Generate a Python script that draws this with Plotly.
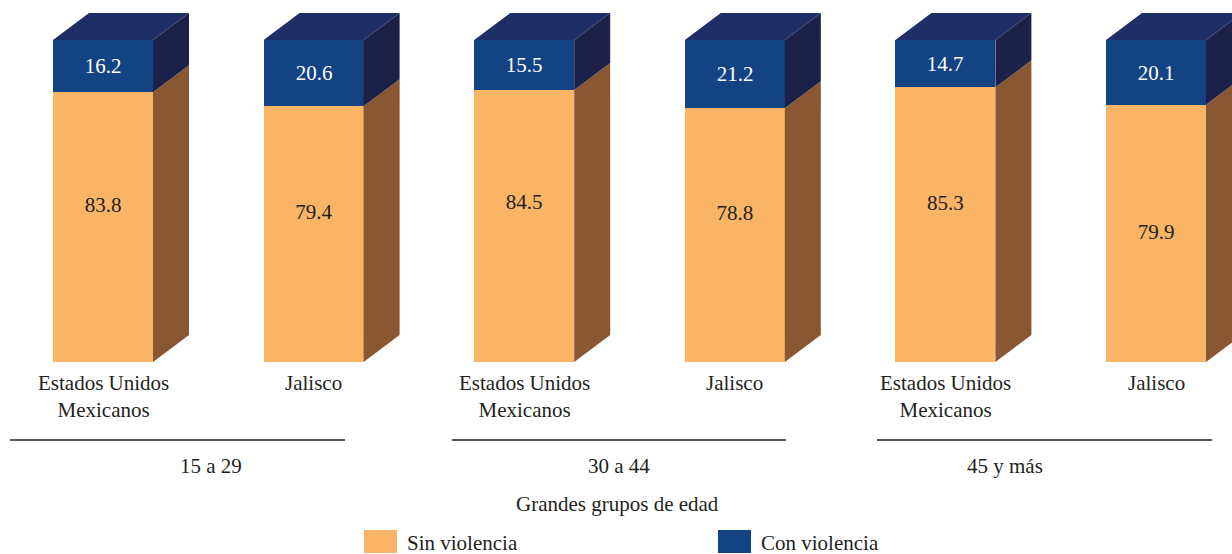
import plotly.graph_objects as go

# ---- data ----
groups = ["15 a 29", "30 a 44", "45 y más"]
places = ["Estados Unidos<br>Mexicanos", "Jalisco"]
sin_violencia = [83.8, 79.4, 84.5, 78.8, 85.3, 79.9]
con_violencia = [16.2, 20.6, 15.5, 21.2, 14.7, 20.1]
series_names = ["Sin violencia", "Con violencia"]

# ---- style ----
W, H = 1232, 554
C_ORANGE = "#F9B466"
C_ORANGE_SIDE = "#8A5733"
C_BLUE = "#134382"
C_BLUE_SIDE = "#1C2149"
C_TOP = "#202E66"
C_TEXT = "#231F20"
FONT = "Liberation Serif"
FS = 21
# relative height (fraction of the orange segment) where its value label sits
orange_label_frac = [0.577, 0.581, 0.581, 0.579, 0.573, 0.5]

# axis scaling (bar index units on x, percent on y)
px_per_unit_x = 210.6
x0_px = 103.0
xr = [-x0_px / px_per_unit_x, (W - x0_px) / px_per_unit_x]
px_per_unit_y = 3.22
base_px = 362.0
yr = [-(H - base_px) / px_per_unit_y, base_px / px_per_unit_y]

bw = 100 / px_per_unit_x
dx = 36 / px_per_unit_x
dy = 27 / px_per_unit_y

n = len(sin_violencia)
xs = list(range(n))

fig = go.Figure()

# side and top faces (3D effect)
for i in xs:
    s = sin_violencia[i]
    c = con_violencia[i]
    tot = s + c
    xr_edge = i + bw / 2
    xl_edge = i - bw / 2
    fig.add_trace(go.Scatter(
        x=[xr_edge, xr_edge + dx, xr_edge + dx, xr_edge, xr_edge],
        y=[0, dy, s + dy, s, 0], fill="toself", fillcolor=C_ORANGE_SIDE,
        line=dict(width=0), mode="lines", showlegend=False, hoverinfo="skip"))
    fig.add_trace(go.Scatter(
        x=[xr_edge, xr_edge + dx, xr_edge + dx, xr_edge, xr_edge],
        y=[s, s + dy, tot + dy, tot, s], fill="toself", fillcolor=C_BLUE_SIDE,
        line=dict(width=0), mode="lines", showlegend=False, hoverinfo="skip"))
    fig.add_trace(go.Scatter(
        x=[xl_edge, xl_edge + dx, xr_edge + dx, xr_edge, xl_edge],
        y=[tot, tot + dy, tot + dy, tot, tot], fill="toself", fillcolor=C_TOP,
        line=dict(width=0), mode="lines", showlegend=False, hoverinfo="skip"))

# front faces
fig.add_trace(go.Bar(
    x=xs, y=sin_violencia, width=bw, marker=dict(color=C_ORANGE, line=dict(width=0)),
    name=series_names[0], showlegend=False))
fig.add_trace(go.Bar(
    x=xs, y=con_violencia, width=bw, marker=dict(color=C_BLUE, line=dict(width=0)),
    text=[f"{v:.1f}" for v in con_violencia], textposition="inside",
    insidetextanchor="middle", textangle=0,
    textfont=dict(family=FONT, size=FS, color="#FFFFFF"),
    name=series_names[1], showlegend=False))
# value labels of the orange segments
fig.add_trace(go.Scatter(
    x=xs, y=[s * f for s, f in zip(sin_violencia, orange_label_frac)],
    mode="text", text=[f"{v:.1f}" for v in sin_violencia], textposition="middle center",
    textfont=dict(family=FONT, size=FS, color=C_TEXT), showlegend=False, hoverinfo="skip"))

annotations = []
shapes = []

def py(p):
    return 1 - p / H

for i in xs:
    annotations.append(dict(
        x=i, y=py(369), xref="x", yref="paper", yanchor="top",
        text=places[i % 2], showarrow=False, align="center",
        font=dict(family=FONT, size=FS, color=C_TEXT)))

group_px = [(10, 345), (452, 786), (877, 1212)]
for g, (a, b) in zip(groups, group_px):
    shapes.append(dict(type="line", xref="paper", yref="paper",
                       x0=a / W, x1=b / W, y0=py(440), y1=py(440),
                       line=dict(color=C_TEXT, width=1.6)))
    annotations.append(dict(
        x=(a + b) / 2 / W, y=py(466), xref="paper", yref="paper", yanchor="middle",
        text=g, showarrow=False, font=dict(family=FONT, size=FS, color=C_TEXT)))

annotations.append(dict(
    x=617 / W, y=py(504), xref="paper", yref="paper", yanchor="middle",
    text="Grandes grupos de edad",
    showarrow=False, font=dict(family=FONT, size=FS, color=C_TEXT)))

legend_items = [(364, C_ORANGE, series_names[0]), (718, C_BLUE, series_names[1])]
for lx, col, name in legend_items:
    shapes.append(dict(type="rect", xref="paper", yref="paper",
                       x0=lx / W, x1=(lx + 33) / W, y0=py(553), y1=py(530),
                       fillcolor=col, line=dict(width=0)))
    annotations.append(dict(
        x=(lx + 41) / W, y=py(543), xref="paper", yref="paper",
        xanchor="left", yanchor="middle",
        text=name, showarrow=False, font=dict(family=FONT, size=FS, color=C_TEXT)))

fig.update_layout(
    width=W, height=H, margin=dict(l=0, r=0, t=0, b=0),
    barmode="stack", bargap=0,
    plot_bgcolor="white", paper_bgcolor="white",
    font=dict(family=FONT, color=C_TEXT),
    xaxis=dict(range=xr, visible=False, fixedrange=True),
    yaxis=dict(range=yr, visible=False, fixedrange=True),
    showlegend=False, annotations=annotations, shapes=shapes,
    uniformtext=dict(mode="show", minsize=10),
)

fig.write_html("out.html", config={"displayModeBar": False},
               post_script="document.body.style.margin='0';document.body.style.overflow='hidden';")
